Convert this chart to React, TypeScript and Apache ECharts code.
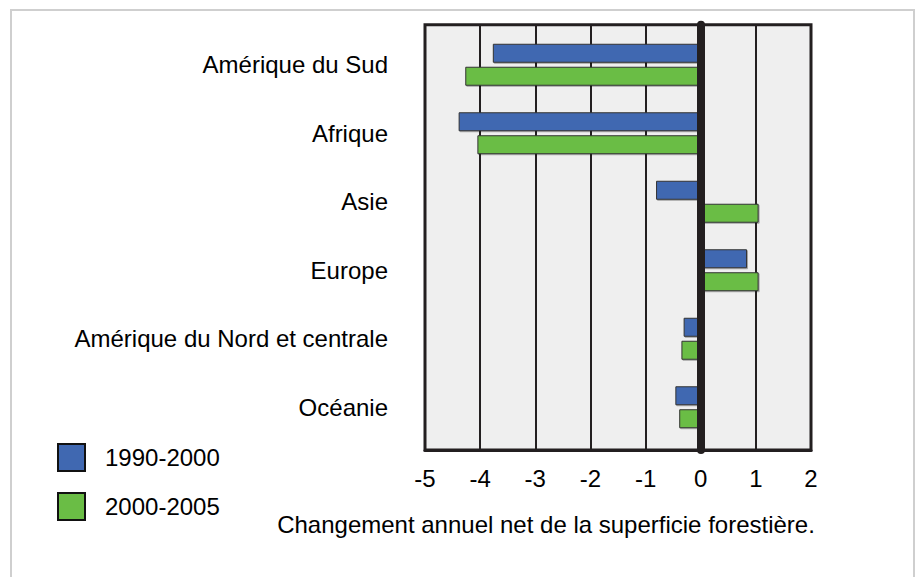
import React, { useEffect, useRef } from "react";
import * as echarts from "echarts";

const categories = [
  "Amérique du Sud",
  "Afrique",
  "Asie",
  "Europe",
  "Amérique du Nord et centrale",
  "Océanie",
];
const series1990_2000 = [-3.77, -4.39, -0.81, 0.84, -0.31, -0.46];
const series2000_2005 = [-4.27, -4.05, 1.05, 1.05, -0.35, -0.39];
const seriesNames = ["1990-2000", "2000-2005"];
const axisName = "Changement annuel net de la superficie forestière.";
const xMin = -5;
const xMax = 2;

const FONT = "'Liberation Sans', Arial, sans-serif";
const DARK = "#231F20";

export default function App() {
  const ref = useRef<HTMLDivElement>(null);
  useEffect(() => {
    if (!ref.current) return;
    const chart = echarts.init(ref.current, undefined, { renderer: "svg" });
    const barStyle = (color: string) => ({
      color,
      borderColor: "#333",
      borderWidth: 1,
      shadowColor: "rgba(0,0,0,0.3)",
      shadowOffsetX: 1,
      shadowOffsetY: 1,
      shadowBlur: 1,
    });
    chart.setOption({
      animation: false,
      backgroundColor: "#ffffff",
      textStyle: { fontFamily: FONT },
      graphic: [
        {
          type: "rect",
          shape: { x: 11, y: 10, width: 903, height: 620 },
          style: { fill: "transparent", stroke: "#CFCFCF", lineWidth: 2 },
          silent: true,
        },
      ],
      legend: {
        orient: "vertical",
        left: 52,
        top: 438,
        itemWidth: 27,
        itemHeight: 27,
        itemGap: 20,
        icon: "rect",
        data: seriesNames,
        textStyle: {
          fontSize: 24,
          color: "#000",
          fontFamily: FONT,
          padding: [0, 0, 0, 15],
        },
        itemStyle: {
          borderColor: "#111",
          borderWidth: 2,
          shadowBlur: 0,
          shadowOffsetX: 0,
          shadowOffsetY: 0,
          shadowColor: "transparent",
        },
      },
      grid: [
        {
          left: 425,
          right: 109,
          top: 24.7,
          bottom: 127,
          show: true,
          backgroundColor: "#EFEFEF",
          borderColor: DARK,
          borderWidth: 3,
          containLabel: false,
        },
        {
          left: 425,
          right: 109,
          top: 30.5,
          bottom: 135.5,
          containLabel: false,
        },
      ],
      xAxis: [
        {
          type: "value",
          gridIndex: 0,
          min: xMin,
          max: xMax,
          interval: 1,
          axisLine: { show: true, onZero: false, lineStyle: { color: DARK, width: 3 } },
          axisTick: { show: false },
          splitLine: { show: true, lineStyle: { color: DARK, width: 2 } },
          axisLabel: {
            fontSize: 24,
            color: "#000",
            margin: 16,
            fontFamily: FONT,
          },
          name: axisName,
          nameLocation: "middle",
          nameGap: 62,
          nameTextStyle: {
            fontSize: 24,
            color: "#000",
            fontFamily: FONT,
            padding: [0, 144, 0, 0],
          },
        },
        {
          type: "value",
          gridIndex: 1,
          min: xMin,
          max: xMax,
          interval: 1,
          show: false,
        },
      ],
      yAxis: [
        {
          type: "value",
          gridIndex: 0,
          min: 0,
          max: 1,
          z: 10,
          axisLine: { show: true, onZero: true, lineStyle: { color: DARK, width: 8 } },
          axisTick: { show: false },
          axisLabel: { show: false },
          splitLine: { show: false },
        },
        {
          type: "category",
          gridIndex: 1,
          data: categories,
          inverse: true,
          axisLine: { show: false },
          axisTick: { show: false },
          splitLine: { show: false },
          axisLabel: {
            fontSize: 24,
            color: "#000",
            margin: 37,
            fontFamily: FONT,
          },
        },
      ],
      series: [
        {
          name: seriesNames[0],
          type: "bar",
          xAxisIndex: 1,
          yAxisIndex: 1,
          data: series1990_2000,
          barWidth: 19,
          barGap: "21%",
          itemStyle: barStyle("#4068B1"),
          z: 2,
        },
        {
          name: seriesNames[1],
          type: "bar",
          xAxisIndex: 1,
          yAxisIndex: 1,
          data: series2000_2005,
          barWidth: 19,
          barGap: "21%",
          itemStyle: barStyle("#6ABD45"),
          z: 2,
        },
      ],
    });
    return () => chart.dispose();
  }, []);
  return (
    <div
      ref={ref}
      style={{ position: "fixed", left: 0, top: 0, width: 920, height: 577, background: "#fff" }}
    />
  );
}
